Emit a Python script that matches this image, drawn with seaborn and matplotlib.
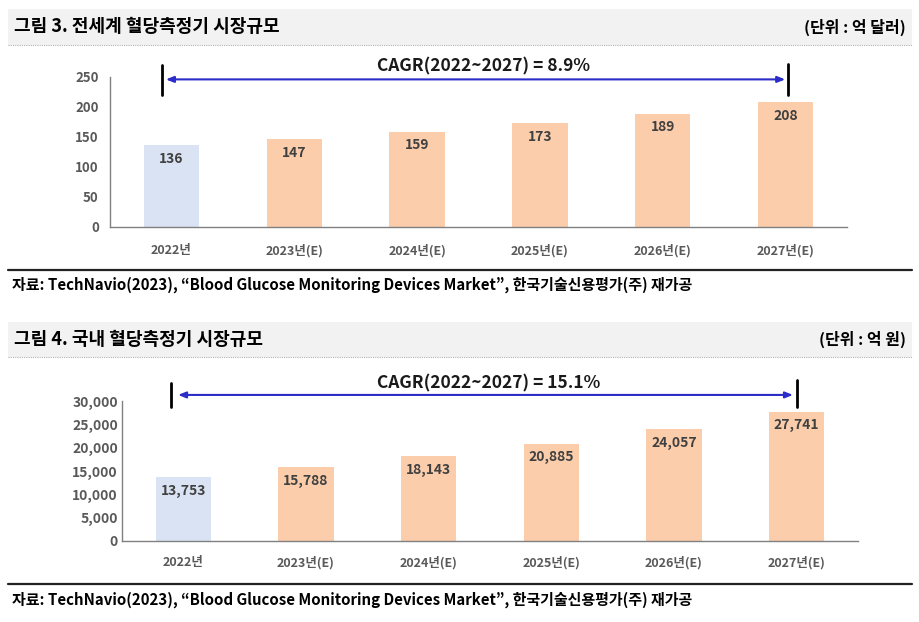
import matplotlib
matplotlib.use("Agg")
import matplotlib.pyplot as plt
import seaborn as sns
from matplotlib.patches import Rectangle
from matplotlib.lines import Line2D
from matplotlib.ticker import FuncFormatter, FixedLocator

sns.set_style("white")
plt.rcParams['font.family'] = ['Noto Sans CJK KR', 'DejaVu Sans']

# ---------------- data ----------------
categories = ["2022년", "2023년(E)", "2024년(E)", "2025년(E)", "2026년(E)", "2027년(E)"]
world_values = [136, 147, 159, 173, 189, 208]          # 억 달러
domestic_values = [13753, 15788, 18143, 20885, 24057, 27741]  # 억 원
world_title = "그림 3. 전세계 혈당측정기 시장규모"
world_unit = "(단위 : 억 달러)"
domestic_title = "그림 4. 국내 혈당측정기 시장규모"
domestic_unit = "(단위 : 억 원)"
world_cagr = "CAGR(2022~2027) = 8.9%"
domestic_cagr = "CAGR(2022~2027) = 15.1%"
source = "자료: TechNavio(2023), \u201cBlood Glucose Monitoring Devices Market\u201d, 한국기술신용평가(주) 재가공"
world_yticks = [0, 50, 100, 150, 200, 250]
domestic_yticks = [0, 5000, 10000, 15000, 20000, 25000, 30000]

BLUE = "#dae3f3"
ORANGE = "#fbcdab"
palette = [BLUE] + [ORANGE] * 5

W, H = 920, 622
fig = plt.figure(figsize=(W / 100, H / 100), dpi=100)


def fx(x):
    return x / W


def fy(y):
    return 1 - y / H


def header(y0, y1, title, unit):
    fig.patches.append(Rectangle((fx(8), fy(y1)), fx(912) - fx(8), fy(y0) - fy(y1),
                                 transform=fig.transFigure, facecolor="#f2f2f2",
                                 edgecolor="none", zorder=0))
    fig.lines.append(Line2D([fx(8), fx(912)], [fy(y1), fy(y1)], transform=fig.transFigure,
                            color="#b0b0b0", lw=0.8, ls=(0, (1, 1))))
    yc = (y0 + y1) / 2
    fig.text(fx(14), fy(yc), title, ha="left", va="center", fontsize=13,
             fontweight="bold", color="black")
    fig.text(fx(906), fy(yc), unit, ha="right", va="center", fontsize=11.5,
             fontweight="bold", color="black")


def footer(yline, ytext):
    fig.lines.append(Line2D([fx(8), fx(912)], [fy(yline), fy(yline)], transform=fig.transFigure,
                            color="#222222", lw=1.6))
    fig.text(fx(12), fy(ytext), source, ha="left", va="center", fontsize=10.8,
             fontweight="bold", color="black")


def make_axes(left, right, top, bottom):
    return fig.add_axes([fx(left), fy(bottom), fx(right) - fx(left), fy(top) - fy(bottom)])


def draw_panel(ax, values, yticks, fmt, ypad, xpad, ysize):
    sns.barplot(x=categories, y=values, hue=categories, palette=palette, legend=False,
                width=0.45, ax=ax, saturation=1, edgecolor="none")
    ax.set_xlim(-0.5, 5.5)
    ax.set_ylim(yticks[0], yticks[-1])
    ax.set_yticks(yticks)
    ax.yaxis.set_major_formatter(FuncFormatter(lambda v, p: fmt.format(v)))
    for s in ["top", "right"]:
        ax.spines[s].set_visible(False)
    for s in ["left", "bottom"]:
        ax.spines[s].set_color("#808080")
        ax.spines[s].set_linewidth(1.0)
    ax.xaxis.set_minor_locator(FixedLocator([i - 0.5 for i in range(7)]))
    ax.tick_params(axis="x", which="major", length=0, pad=xpad, labelsize=9,
                   labelcolor="#595959")
    ax.tick_params(axis="x", which="minor", length=4, direction="out", color="#808080",
                   width=1)
    ax.tick_params(axis="y", which="major", length=4, direction="in", color="#808080",
                   width=1, pad=ypad, labelsize=ysize, labelcolor="#595959")
    for lab in ax.get_xticklabels() + ax.get_yticklabels():
        lab.set_fontweight("bold")
    ax.set_xlabel("")
    ax.set_ylabel("")
    ax.patch.set_alpha(0)
    for p, v in zip(ax.patches, values):
        ax.annotate(fmt.format(v), (p.get_x() + p.get_width() / 2, p.get_height()),
                    xytext=(0, -10), textcoords="offset points", ha="center", va="center",
                    fontsize=10, fontweight="bold", color="#404040")


def cagr(ax, text, xt, yt, xa0, xa1, ya, xb0, xb1, yb0, yb1a, yb1b):
    ax.annotate("", xy=(xa0, ya), xytext=(xa1, ya), annotation_clip=False,
                arrowprops=dict(arrowstyle="<|-|>,head_length=0.45,head_width=0.18",
                                color="#2c2cc8", lw=1.5, shrinkA=0, shrinkB=0))
    ax.plot([xb0, xb0], [yb0, yb1a], color="black", lw=2, clip_on=False)
    ax.plot([xb1, xb1], [yb0, yb1b], color="black", lw=2, clip_on=False)
    ax.text(xt, yt, text, ha="center", va="center", fontsize=12.5, fontweight="bold",
            color="#1a1a1a", clip_on=False)


# ---------- panel 1 ----------
header(9, 45, world_title, world_unit)
ax1 = make_axes(110, 847, 77, 227)
draw_panel(ax1, world_values, world_yticks, "{:,.0f}", 8, 12, 9.5)
cagr(ax1, world_cagr, 2.54, 268, -0.045, 4.997, 246, -0.077, 5.02, 220, 270, 272)
footer(270, 285)

# ---------- panel 2 ----------
header(322, 357, domestic_title, domestic_unit)
ax2 = make_axes(122, 858, 401, 541)
draw_panel(ax2, domestic_values, domestic_yticks, "{:,.0f}", 3, 11, 10)
cagr(ax2, domestic_cagr, 2.49, 33860, -0.043, 4.97, 31300, -0.10, 5.0, 28700, 33900, 34500)
footer(584, 600)

fig.savefig("out.png", dpi=100)
